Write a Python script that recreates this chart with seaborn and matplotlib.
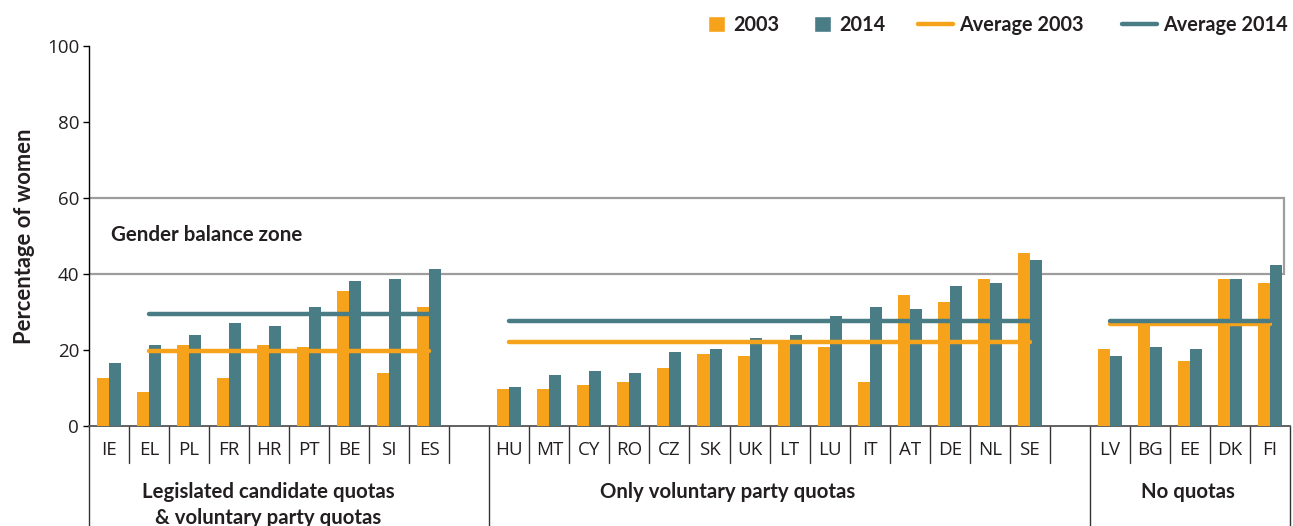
import matplotlib
matplotlib.use("Agg")
from matplotlib import pyplot as plt
from matplotlib.lines import Line2D
from matplotlib.patches import Patch, Rectangle
import matplotlib.transforms as mtransforms
import pandas as pd
import seaborn as sns

# values (percentage of women)
countries_legislated = ["IE", "EL", "PL", "FR", "HR", "PT", "BE", "SI", "ES"]
women_2003_legislated = [12.6, 8.9, 21.3, 12.6, 21.3, 20.8, 35.5, 13.9, 31.3]
women_2014_legislated = [16.6, 21.3, 23.9, 27.1, 26.3, 31.3, 38.2, 38.7, 41.3]

countries_voluntary = ["HU", "MT", "CY", "RO", "CZ", "SK", "UK", "LT", "LU",
                       "IT", "AT", "DE", "NL", "SE"]
women_2003_voluntary = [9.7, 9.7, 10.8, 11.6, 15.3, 18.9, 18.4, 22.0, 20.8,
                        11.6, 34.5, 32.6, 38.7, 45.5]
women_2014_voluntary = [10.3, 13.4, 14.5, 13.9, 19.5, 20.3, 23.2, 23.9, 28.9,
                        31.3, 30.8, 36.8, 37.6, 43.7]

countries_none = ["LV", "BG", "EE", "DK", "FI"]
women_2003_none = [20.3, 26.7, 17.1, 38.7, 37.6]
women_2014_none = [18.4, 20.8, 20.3, 38.7, 42.4]

group_labels = ["Legislated candidate quotas\n& voluntary party quotas",
                "Only voluntary party quotas", "No quotas"]
average_2003 = [19.7, 22.0, 26.8]
average_2014 = [29.5, 27.6, 27.6]
average_spans = [("EL", "ES"), ("HU", "SE"), ("LV", "FI")]

ORANGE = "#F7A21B"
TEAL = "#4A7C86"
TEXT = "#231F20"
BOLD_FONT = ["Lato", "DejaVu Sans"]

sns.set_theme(style="white")
plt.rcParams["font.family"] = ["Open Sans", "DejaVu Sans"]

groups = [countries_legislated, countries_voluntary, countries_none]
rows = []
for countries, v03, v14 in zip(
        groups,
        [women_2003_legislated, women_2003_voluntary, women_2003_none],
        [women_2014_legislated, women_2014_voluntary, women_2014_none]):
    for c, a, b in zip(countries, v03, v14):
        rows.append({"country": c, "year": "2003", "value": a})
        rows.append({"country": c, "year": "2014", "value": b})
df = pd.DataFrame(rows)

# blank slots between the groups
order = countries_legislated + [" "] + countries_voluntary + ["  "] + countries_none

fig = plt.figure(figsize=(12.93, 5.26), dpi=100)
ax = fig.add_axes([0.0688, 0.1901, 0.9289, 0.7224])

sns.barplot(data=df, x="country", y="value", hue="year", order=order,
            hue_order=["2003", "2014"],
            palette={"2003": ORANGE, "2014": TEAL}, width=0.6, gap=0,
            saturation=1, errorbar=None, legend=False, linewidth=0,
            zorder=3, ax=ax)

# gender balance zone
ax.add_patch(Rectangle((-0.5, 40), 29.85, 20, fill=False,
                       edgecolor="#9D9D9D", linewidth=1.6, zorder=1))
ax.text(0.04, 50.3, "Gender balance zone", ha="left", va="center",
        fontsize=14.8, fontweight="bold", family=BOLD_FONT, color=TEXT)

# group averages
for (first, last), a03, a14 in zip(average_spans, average_2003, average_2014):
    x0, x1 = order.index(first), order.index(last)
    ax.plot([x0, x1], [a03, a03], color=ORANGE, lw=3.2,
            solid_capstyle="round", zorder=4)
    ax.plot([x0, x1], [a14, a14], color=TEAL, lw=3.2,
            solid_capstyle="round", zorder=5)

ax.set_xlim(-0.5, 29.5)
ax.set_ylim(0, 100)
ax.set_yticks(range(0, 101, 20))
ax.tick_params(axis="y", left=True, length=4, width=1, color="black",
               labelsize=13.5, labelcolor=TEXT, pad=3)

ticks = [i for i, c in enumerate(order) if c.strip()]
ax.set_xticks(ticks)
ax.set_xticklabels([order[i] for i in ticks])
ax.tick_params(axis="x", length=0, labelsize=13.5, labelcolor=TEXT, pad=11)
ax.set_xlabel("")

ax.set_ylabel("Percentage of women", fontsize=15.8, fontweight="bold",
              family=BOLD_FONT, color=TEXT)
ax.yaxis.set_label_coords(-0.045, 0.5)

for side in ["top", "right"]:
    ax.spines[side].set_visible(False)
ax.spines["left"].set_color("black")
ax.spines["left"].set_linewidth(1)
ax.spines["bottom"].set_color("#555555")
ax.spines["bottom"].set_linewidth(1.3)

# category table under the axis
trans = mtransforms.blended_transform_factory(ax.transData, ax.transAxes)
long_lines = [-0.5, 9.5, 24.5, 29.5]
for i in range(len(order) + 1):
    b = i - 0.5
    bottom = -0.3 if b in long_lines else -0.097
    ax.plot([b, b], [0, bottom], color="#333333", lw=1, transform=trans,
            clip_on=False)

# group names sit a little left of their group's middle in the reference
label_x = [3.97, 15.45, 26.95]
for x, label in zip(label_x, group_labels):
    ax.text(x, -0.148, label, transform=trans, ha="center", va="top",
            fontsize=14.7, fontweight="bold", family=BOLD_FONT, color=TEXT,
            linespacing=1.35)

# legend, one entry at a time so each sits where the reference has it
entries = [
    (Patch(facecolor=ORANGE), "2003", 708),
    (Patch(facecolor=TEAL), "2014", 814),
    (Line2D([], [], color=ORANGE, lw=3.2, solid_capstyle="round"),
     "Average 2003", 918),
    (Line2D([], [], color=TEAL, lw=3.2, solid_capstyle="round"),
     "Average 2014", 1122),
]
for handle, label, xpix in entries:
    is_patch = isinstance(handle, Patch)
    leg = fig.legend([handle], [label], loc="center left",
                     bbox_to_anchor=(xpix / 1293, 1 - 25 / 526),
                     frameon=False, borderpad=0, borderaxespad=0,
                     handlelength=0.85 if is_patch else 1.75,
                     handleheight=0.85 if is_patch else 0.7,
                     handletextpad=0.4 if is_patch else 0.3,
                     prop={"family": BOLD_FONT, "weight": "bold", "size": 14.3})
    for t in leg.get_texts():
        t.set_color(TEXT)

fig.savefig("out.png", dpi=100)
